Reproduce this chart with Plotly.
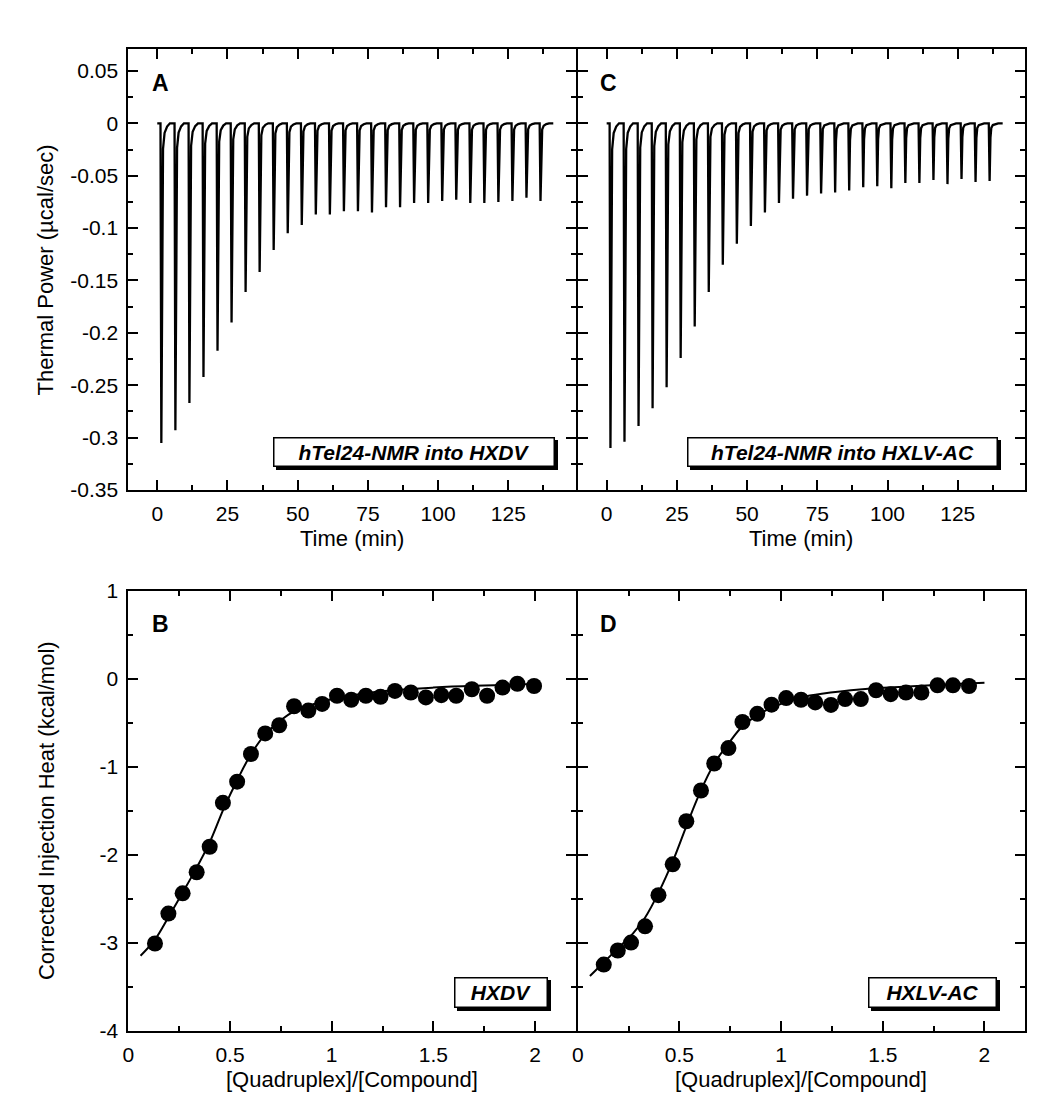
import plotly.graph_objects as go

W, H = 1041, 1106
FONT = "Liberation Sans, Arial, sans-serif"

# ---------------- Data: thermograms (panels A and C) ----------------
A_inj_time = [1.2, 6.2, 11.2, 16.2, 21.2, 26.2, 31.2, 36.2, 41.2, 46.2, 51.2, 56.2, 61.2, 66.2,
              71.2, 76.2, 81.2, 86.2, 91.2, 96.2, 101.2, 106.2, 111.2, 116.2, 121.2, 126.2, 131.2, 136.2]
A_peak = [-0.305, -0.293, -0.267, -0.242, -0.217, -0.190, -0.161, -0.142, -0.121, -0.105,
          -0.097, -0.087, -0.087, -0.084, -0.084, -0.085, -0.080, -0.080, -0.076, -0.076,
          -0.074, -0.073, -0.076, -0.076, -0.075, -0.074, -0.071, -0.074]
A_t_start, A_t_end = 0.0, 141.0

C_inj_time = [1.1, 6.1, 11.1, 16.1, 21.1, 26.1, 31.1, 36.1, 41.1, 46.1, 51.1, 56.1, 61.1, 66.1,
              71.1, 76.1, 81.1, 86.1, 91.1, 96.1, 101.1, 106.1, 111.1, 116.1, 121.1, 126.1, 131.1, 136.1]
C_peak = [-0.310, -0.304, -0.289, -0.272, -0.252, -0.224, -0.194, -0.161, -0.135, -0.115,
          -0.098, -0.085, -0.076, -0.072, -0.069, -0.067, -0.066, -0.064, -0.061, -0.060,
          -0.062, -0.057, -0.057, -0.054, -0.058, -0.053, -0.056, -0.055]
C_t_start, C_t_end = 0.0, 141.0

# ---------------- Data: integrated heats (panels B and D) ----------------
B_ratio = [0.131, 0.197, 0.267, 0.336, 0.400, 0.465, 0.535, 0.603, 0.673, 0.742, 0.815, 0.885,
           0.953, 1.026, 1.096, 1.168, 1.240, 1.311, 1.389, 1.463, 1.539, 1.612, 1.689, 1.764,
           1.840, 1.913, 1.995]
B_heat = [-3.01, -2.67, -2.44, -2.20, -1.91, -1.41, -1.17, -0.855, -0.621, -0.528, -0.312, -0.361,
          -0.286, -0.193, -0.238, -0.193, -0.204, -0.138, -0.156, -0.212, -0.186, -0.193, -0.119,
          -0.193, -0.100, -0.056, -0.082]
B_fit_x = [0.06, 0.13, 0.20, 0.27, 0.34, 0.40, 0.47, 0.54, 0.60, 0.67, 0.74, 0.80, 0.87, 0.95,
           1.05, 1.15, 1.30, 1.50, 1.70, 1.85, 2.00]
B_fit_y = [-3.15, -2.97, -2.70, -2.42, -2.13, -1.86, -1.47, -1.13, -0.87, -0.64, -0.49, -0.39,
           -0.32, -0.26, -0.21, -0.17, -0.13, -0.10, -0.08, -0.07, -0.06]

D_ratio = [0.128, 0.197, 0.262, 0.331, 0.397, 0.467, 0.534, 0.606, 0.671, 0.741, 0.810, 0.883,
           0.953, 1.025, 1.098, 1.168, 1.245, 1.315, 1.392, 1.467, 1.539, 1.614, 1.690, 1.769,
           1.845, 1.924]
D_heat = [-3.25, -3.09, -3.00, -2.815, -2.46, -2.11, -1.62, -1.27, -0.963, -0.788, -0.491, -0.398,
          -0.294, -0.219, -0.238, -0.268, -0.297, -0.230, -0.230, -0.130, -0.175, -0.156, -0.156,
          -0.074, -0.074, -0.082]
D_fit_x = [0.06, 0.13, 0.20, 0.27, 0.33, 0.40, 0.47, 0.54, 0.60, 0.67, 0.74, 0.81, 0.88, 0.95,
           1.03, 1.10, 1.20, 1.40, 1.60, 1.80, 2.00]
D_fit_y = [-3.38, -3.22, -3.06, -2.90, -2.72, -2.42, -2.06, -1.64, -1.30, -0.97, -0.74, -0.54,
           -0.42, -0.33, -0.26, -0.21, -0.17, -0.12, -0.09, -0.065, -0.045]

# ---------------- Tick labels ----------------
top_x_ticks = [0, 25, 50, 75, 100, 125]
top_x_text = ["0", "25", "50", "75", "100", "125"]
top_y_ticks = [0.05, 0, -0.05, -0.1, -0.15, -0.2, -0.25, -0.3, -0.35]
top_y_text = ["0.05", "0", "-0.05", "-0.1", "-0.15", "-0.2", "-0.25", "-0.3", "-0.35"]
bot_x_ticks = [0, 0.5, 1, 1.5, 2]
bot_x_text = ["0", "0.5", "1", "1.5", "2"]
bot_y_ticks = [1, 0, -1, -2, -3, -4]
bot_y_text = ["1", "0", "-1", "-2", "-3", "-4"]

# spike shape used to draw each injection peak (time offset, fraction of peak depth)
SPIKE_DT = [-0.05, 0.25, 0.55, 0.85, 1.4, 2.3, 3.3]
SPIKE_FR = [0.0, 1.0, 0.25, 0.08, 0.03, 0.01, 0.0]


def thermogram(times, depths, t_start, t_end):
    xs, ys = [t_start], [0.0]
    for t0, d in zip(times, depths):
        for dt, fr in zip(SPIKE_DT, SPIKE_FR):
            xs.append(t0 + dt)
            ys.append(d * fr)
    xs.append(t_end)
    ys.append(0.0)
    return xs, ys


fig = go.Figure()

ax, ay = thermogram(A_inj_time, A_peak, A_t_start, A_t_end)
fig.add_trace(go.Scatter(x=ax, y=ay, mode="lines", line=dict(color="black", width=2.3),
                         xaxis="x", yaxis="y", showlegend=False))
cx, cy = thermogram(C_inj_time, C_peak, C_t_start, C_t_end)
fig.add_trace(go.Scatter(x=cx, y=cy, mode="lines", line=dict(color="black", width=2.3),
                         xaxis="x2", yaxis="y2", showlegend=False))

fig.add_trace(go.Scatter(x=B_fit_x, y=B_fit_y, mode="lines", line=dict(color="black", width=2, shape="spline"),
                         xaxis="x3", yaxis="y3", showlegend=False))
fig.add_trace(go.Scatter(x=B_ratio, y=B_heat, mode="markers", marker=dict(color="black", size=16),
                         xaxis="x3", yaxis="y3", showlegend=False))
fig.add_trace(go.Scatter(x=D_fit_x, y=D_fit_y, mode="lines", line=dict(color="black", width=2, shape="spline"),
                         xaxis="x4", yaxis="y4", showlegend=False))
fig.add_trace(go.Scatter(x=D_ratio, y=D_heat, mode="markers", marker=dict(color="black", size=16),
                         xaxis="x4", yaxis="y4", showlegend=False))


def px_x(p):
    return p / W


def px_y(p):
    return 1 - p / H


def axis_style(rng, domain, tickvals, ticktext, minor_dtick, show_labels=True, anchor=None):
    d = dict(
        range=rng, domain=domain, showline=True, linecolor="black", linewidth=2,
        mirror="ticks", ticks="inside", ticklen=10, tickwidth=2, tickcolor="black",
        showgrid=False, zeroline=False, tickmode="array", tickvals=tickvals, ticktext=ticktext,
        showticklabels=show_labels, tickfont=dict(family=FONT, size=21, color="black"),
        ticklabelstandoff=4,
        minor=dict(ticks="inside", ticklen=5, tickwidth=2, tickcolor="black",
                   dtick=minor_dtick, tick0=0, showgrid=False),
    )
    if anchor:
        d["anchor"] = anchor
    return d


dA = [px_x(115), px_x(565)]
dC = [px_x(567), px_x(1017)]
d_top = [px_y(480), px_y(30)]
d_bot = [px_y(1032), px_y(583)]

fig.update_layout(
    width=W, height=H, margin=dict(l=0, r=0, t=0, b=0),
    paper_bgcolor="white", plot_bgcolor="white",
    font=dict(family=FONT, color="black"),
    xaxis=axis_style([-10.3, 149], dA, top_x_ticks, top_x_text, 12.5, anchor="y"),
    yaxis=axis_style([-0.35, 0.0706], d_top, top_y_ticks, top_y_text, 0.025, anchor="x"),
    xaxis2=axis_style([-10.3, 149], dC, top_x_ticks, top_x_text, 12.5, anchor="y2"),
    yaxis2=axis_style([-0.35, 0.0706], d_top, top_y_ticks, top_y_text, 0.025, show_labels=False, anchor="x2"),
    xaxis3=axis_style([0, 2.2], dA, bot_x_ticks, bot_x_text, 0.25, anchor="y3"),
    yaxis3=axis_style([-4, 1], d_bot, bot_y_ticks, bot_y_text, 0.5, anchor="x3"),
    xaxis4=axis_style([0, 2.2], dC, bot_x_ticks, bot_x_text, 0.25, anchor="y4"),
    yaxis4=axis_style([-4, 1], d_bot, bot_y_ticks, bot_y_text, 0.5, show_labels=False, anchor="x4"),
)

ann = []


def text_ann(txt, xpx, ypx, size=22, bold=False, angle=0):
    t = f"<b>{txt}</b>" if bold else txt
    ann.append(dict(text=t, x=px_x(xpx), y=px_y(ypx), xref="paper", yref="paper",
                    xanchor="center", yanchor="middle", showarrow=False, textangle=angle,
                    font=dict(family=FONT, size=size, color="black")))


# panel letters
text_ann("A", 147, 64, 23, True)
text_ann("C", 598, 64, 23, True)
text_ann("B", 147, 617, 23, True)
text_ann("D", 598, 617, 23, True)

# axis titles
text_ann("Time (min)", 340, 530)
text_ann("Time (min)", 792, 530)
text_ann("[Quadruplex]/[Compound]", 340, 1082)
text_ann("[Quadruplex]/[Compound]", 792, 1082)
text_ann("Thermal Power (µcal/sec)", 32, 255, angle=-90)
text_ann("Corrected Injection Heat (kcal/mol)", 32, 807, angle=-90)


def label_box(txt, left, right, top, bottom, size=21):
    w = right - left
    h = bottom - top
    pad, bw = 2, 1.5
    geo = dict(x=px_x(right), y=px_y(bottom), xref="paper", yref="paper",
               xanchor="right", yanchor="bottom", showarrow=False, align="center", valign="middle",
               width=w - 2 * pad - 2 * bw, height=h - 2 * pad - 2 * bw, borderpad=pad, borderwidth=bw,
               font=dict(family=FONT, size=size, color="black"))
    # drop shadow: same-sized empty box, shifted right/down
    shadow = dict(geo, text="&nbsp;", bgcolor="black", bordercolor="black", xshift=3, yshift=-3)
    main = dict(geo, text=f"<b><i>{txt}</i></b>", bgcolor="white", bordercolor="black")
    ann.append(shadow)
    ann.append(main)


label_box("hTel24-NMR into HXDV", 262, 544, 427, 457)
label_box("hTel24-NMR into HXLV-AC", 679, 990, 427, 457)
label_box("HXDV", 443, 537, 978, 1009)
label_box("HXLV-AC", 860, 989, 978, 1009)

fig.update_layout(annotations=ann)

fig.write_html("out.html")
